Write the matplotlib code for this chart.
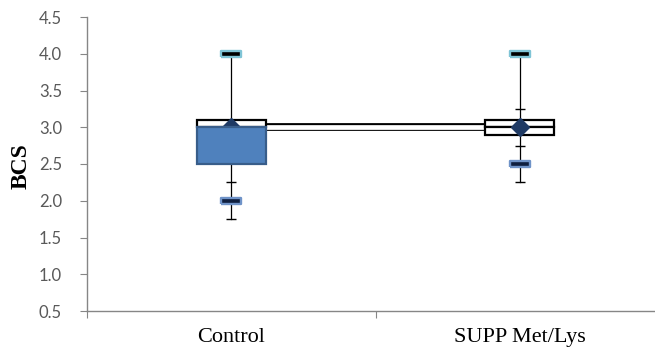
import matplotlib
matplotlib.use("Agg")
import matplotlib.pyplot as plt
import numpy as np

# values
categories = ["Control", "SUPP Met/Lys"]
q1 = [2.5, 2.9]
median = [3.0, 3.0]
q3 = [3.1, 3.1]
mean = [3.0, 3.0]
max_val = [4.0, 4.0]
min_val = [2.0, 2.5]
whisker_low = [1.75, 2.25]
caps = [[2.25, 1.75], [3.25, 2.75, 2.25]]
lower_fill = ["#4F81BD", "white"]
lower_edge = ["#385D8A", "black"]

GRAY = "#868686"
BOX_W = 0.24

fig = plt.figure(figsize=(6.55, 3.52), dpi=100)
ax = fig.add_axes([87 / 655, 41 / 352, 577 / 655, 294 / 352])

x = np.arange(1, len(categories) + 1)

# whiskers
for i in range(len(x)):
    ax.plot([x[i], x[i]], [whisker_low[i], max_val[i]], color="black", lw=0.9, zorder=1)
    ax.plot([x[i]] * len(caps[i]), caps[i], ls="none", marker="_", ms=6.5,
            mew=1.0, color="black", zorder=1)

# median connector (thick white line with black border)
ax.plot(x, median, color="black", lw=5.6, solid_capstyle="butt", zorder=2)
ax.plot(x, median, color="white", lw=3.4, solid_capstyle="butt", zorder=2.1)

# upper box segments
ax.bar(x, np.array(q3) - np.array(median), bottom=median, width=BOX_W,
       color="white", edgecolor="black", linewidth=1.6, zorder=3)

# lower box segments
for i in range(len(x)):
    z = 5 if lower_fill[i] != "white" else 3
    ax.bar(x[i], median[i] - q1[i], bottom=q1[i], width=BOX_W,
           color=lower_fill[i], edgecolor=lower_edge[i], linewidth=1.6, zorder=z)

# mean diamonds
ax.plot(x, mean, ls="none", marker="D", ms=9.5, color="#1F3A64", zorder=4)

# max / min markers
rect = [(-1, -0.28), (1, -0.28), (1, 0.28), (-1, 0.28), (-1, -0.28)]
ax.plot(x, max_val, ls="none", marker=rect, ms=15, mfc="black",
        mec="#7FC4D6", mew=1.7, zorder=6)
ax.plot(x, min_val, ls="none", marker=rect, ms=15, mfc="#0F1F3F",
        mec="#6F93C8", mew=1.7, zorder=6)

ax.set_xlim(0.5, 2.5)
ax.set_ylim(0.5, 4.5)
ax.set_yticks(np.arange(0.5, 4.51, 0.5))
ax.set_yticklabels([f"{v:.1f}" for v in np.arange(0.5, 4.51, 0.5)],
                   fontfamily="Lato", fontsize=12, color="#595959")
ax.set_xticks([0.5, 1.5, 2.5])
ax.set_xticklabels([])
ax.set_xticks(x, minor=True)
ax.set_xticklabels(categories, minor=True, fontfamily="Liberation Serif",
                   fontsize=16)
ax.tick_params(axis="x", which="minor", length=0, pad=12)
ax.tick_params(axis="x", which="major", length=5, color=GRAY, direction="out")
ax.tick_params(axis="y", length=5, color=GRAY, direction="out", pad=13)

for s in ["top", "right"]:
    ax.spines[s].set_visible(False)
for s in ["left", "bottom"]:
    ax.spines[s].set_color(GRAY)
    ax.spines[s].set_linewidth(1.0)

fig.text(21 / 655, 1 - 166 / 352, "BCS", rotation=90, ha="center", va="center",
         fontfamily="Liberation Serif", fontweight="bold", fontsize=17)

fig.savefig("out.png", dpi=100)
